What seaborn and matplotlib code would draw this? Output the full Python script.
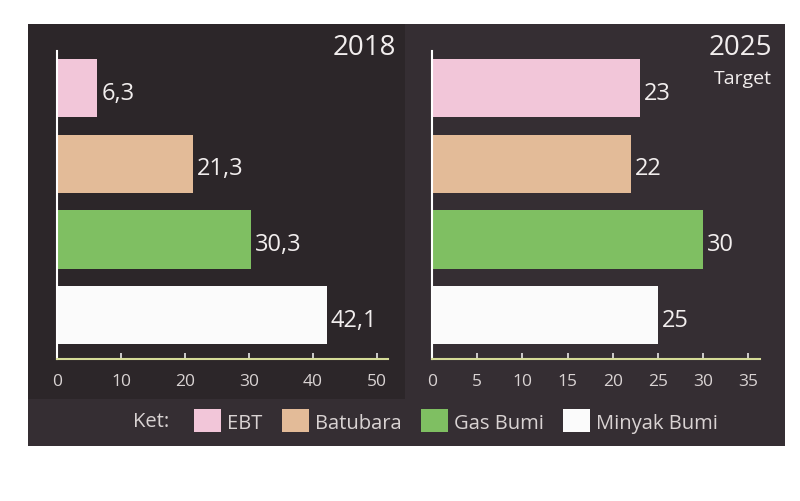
import matplotlib
matplotlib.use('Agg')
import matplotlib.pyplot as plt
import seaborn as sns
import pandas as pd
from matplotlib.patches import Rectangle

# Data bauran energi
kategori = ['EBT', 'Batubara', 'Gas Bumi', 'Minyak Bumi']
nilai_2018 = [6.3, 21.3, 30.3, 42.1]
nilai_2025 = [23, 22, 30, 25]
label_2018 = ['6,3', '21,3', '30,3', '42,1']
label_2025 = ['23', '22', '30', '25']
ticks_2018 = [0, 10, 20, 30, 40, 50]
ticks_2025 = [0, 5, 10, 15, 20, 25, 30, 35]
warna = ['#f2c6d9', '#e3bb98', '#7fbf62', '#fbfbfb']

BG = '#352e33'
BG_KIRI = '#2c2629'
TXT = '#f2eeee'
TICK = '#d9d3d3'
AXIS = '#d6dc98'

sns.set_theme(style='white')
plt.rcParams['font.family'] = ['Open Sans', 'DejaVu Sans']

fig = plt.figure(figsize=(8, 5.02), dpi=100)
fig.patch.set_facecolor('white')
fig.add_artist(Rectangle((28 / 800, 1 - 447 / 502), (785 - 28) / 800, (447 - 25) / 502,
                         transform=fig.transFigure, facecolor=BG, edgecolor='none', zorder=0))
fig.add_artist(Rectangle((28 / 800, 1 - 400 / 502), (405 - 28) / 800, (400 - 25) / 502,
                         transform=fig.transFigure, facecolor=BG_KIRI, edgecolor='none', zorder=0))

ax1 = fig.add_axes([57 / 800, 1 - 360 / 502, (388 - 57) / 800, (360 - 52) / 502])
ax2 = fig.add_axes([432 / 800, 1 - 360 / 502, (760 - 432) / 800, (360 - 52) / 502])


def gambar(ax, nilai, label, ticks, xmax):
    df = pd.DataFrame({'kategori': kategori, 'nilai': nilai})
    sns.barplot(data=df, x='nilai', y='kategori', hue='kategori', palette=warna,
                order=kategori, hue_order=kategori, legend=False, width=0.77,
                saturation=1, linewidth=0, ax=ax)
    ax.set_facecolor('none')
    ax.set_xlim(0, xmax)
    ax.set_ylim(3.58, -0.49)
    ax.set_xticks(ticks)
    ax.set_xticklabels([str(t) for t in ticks], color=TICK, fontsize=12.5)
    ax.set_yticks([])
    ax.set_xlabel('')
    ax.set_ylabel('')
    for s in ['top', 'right']:
        ax.spines[s].set_visible(False)
    ax.spines['left'].set_color('white')
    ax.spines['left'].set_linewidth(1.5)
    ax.spines['bottom'].set_color(AXIS)
    ax.spines['bottom'].set_linewidth(1.5)
    ax.tick_params(axis='x', bottom=True, direction='in', length=4, width=1.2,
                   color='#e8e8e8', pad=10)
    for i, (v, t) in enumerate(zip(nilai, label)):
        ax.text(v + xmax * 0.012, i + 0.06, t, color=TXT, fontsize=17, va='center', ha='left')


gambar(ax1, nilai_2018, label_2018, ticks_2018, 51.7)
gambar(ax2, nilai_2025, label_2025, ticks_2025, 36.3)

fig.text(396 / 800, 1 - 48 / 502, '2018', color=TXT, fontsize=20, ha='right', va='center')
fig.text(772 / 800, 1 - 48 / 502, '2025', color=TXT, fontsize=20, ha='right', va='center')
fig.text(772 / 800, 1 - 79 / 502, 'Target', color=TXT, fontsize=14, ha='right', va='center')

# Legend (Ket:)
handles = [Rectangle((0, 0), 1, 1, facecolor=c, edgecolor='none') for c in warna]
fig.text(133 / 800, 1 - 422 / 502, 'Ket:', color=TICK, fontsize=14.5, ha='left', va='center')
leg = fig.legend(handles, kategori, loc='center left', bbox_to_anchor=(176 / 800, 1 - 422 / 502),
                 ncol=4, frameon=False, fontsize=14.5, handlelength=1.35, handleheight=1.35,
                 handletextpad=0.3, columnspacing=0.95, labelcolor=TICK)

plt.savefig('out.png', dpi=100, facecolor=fig.get_facecolor())
